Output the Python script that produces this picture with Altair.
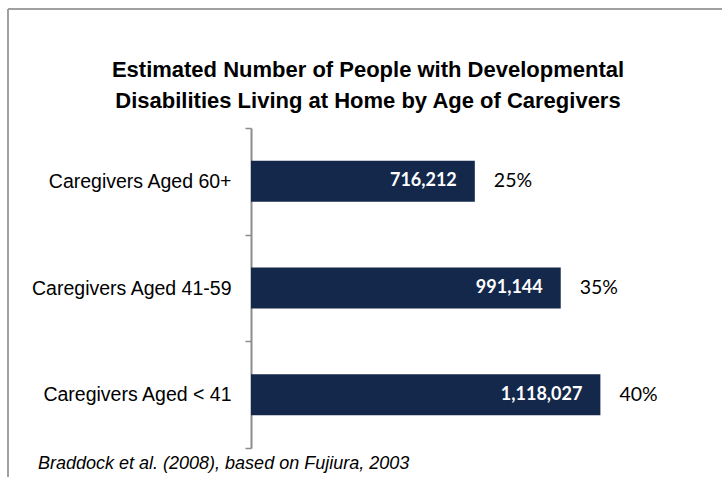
import altair as alt
import pandas as pd

categories = ["Caregivers Aged 60+", "Caregivers Aged 41-59", "Caregivers Aged < 41"]
counts = [716212, 991144, 1118027]
count_labels = ["716,212", "991,144", "1,118,027"]
percents = ["25%", "35%", "40%"]

title_lines = ["Estimated Number of People with Developmental",
               "Disabilities Living at Home by Age of Caregivers"]
source_note = "Braddock et al. (2008), based on Fujiura, 2003"

df = pd.DataFrame({"cat": categories, "count": counts,
                   "clabel": count_labels, "pct": percents})

W, H = 450, 320
LEFT, TOP = 251, 128

y_enc = alt.Y("cat:N", sort=categories,
              scale=alt.Scale(paddingInner=0, paddingOuter=0),
              axis=alt.Axis(title=None, domainColor="#8c8c8c", domainWidth=2,
                            tickColor="#8c8c8c", tickWidth=1.5, tickSize=6,
                            tickBand="extent", labelPadding=14, labelLimit=0,
                            labelFont="Liberation Sans", labelFontSize=19.5,
                            labelColor="#000000", grid=False))
x_enc = alt.X("count:Q", scale=alt.Scale(domain=[0, 1440000], nice=False, zero=True),
              axis=None)

base = alt.Chart(df)

bars = base.mark_bar(color="#14284b", size=41).encode(x=x_enc, y=y_enc)

inner = base.mark_text(align="right", baseline="middle", dx=-18, color="white",
                       font="Lato", fontWeight="bold", fontSize=18).encode(
    x="count:Q", y=alt.Y("cat:N", sort=categories), text="clabel:N")

outer = base.mark_text(align="left", baseline="middle", dx=19, color="black",
                       font="Lato", fontSize=19.5).encode(
    x="count:Q", y=alt.Y("cat:N", sort=categories), text="pct:N")

note = alt.Chart(pd.DataFrame({"t": [source_note]})).mark_text(
    align="left", baseline="alphabetic", font="Liberation Sans", fontStyle="italic",
    fontSize=18, color="#000000").encode(
    x=alt.value(38 - LEFT), y=alt.value(469 - TOP), text="t:N")

title1 = alt.Chart(pd.DataFrame({"t": [title_lines[0]]})).mark_text(
    align="center", baseline="alphabetic", font="Liberation Sans", fontWeight="bold",
    fontSize=22, color="#000000").encode(
    x=alt.value(368 - LEFT), y=alt.value(77 - TOP), text="t:N")
title2 = alt.Chart(pd.DataFrame({"t": [title_lines[1]]})).mark_text(
    align="center", baseline="alphabetic", font="Liberation Sans", fontWeight="bold",
    fontSize=22, color="#000000").encode(
    x=alt.value(368 - LEFT), y=alt.value(108 - TOP), text="t:N")

border_top = alt.Chart(pd.DataFrame({"a": [0]})).mark_rule(color="#a0a0a0", strokeWidth=2).encode(
    x=alt.value(8 - LEFT), x2=alt.value(722 - LEFT), y=alt.value(9 - TOP))
border_left = alt.Chart(pd.DataFrame({"a": [0]})).mark_rule(color="#a0a0a0", strokeWidth=2).encode(
    x=alt.value(8 - LEFT), y=alt.value(9 - TOP), y2=alt.value(477 - TOP))

chart = alt.layer(bars, inner, outer, note, title1, title2, border_top, border_left).properties(
    width=W, height=H,
    background="white",
    autosize=alt.AutoSizeParams(type="none"),
    padding={"left": LEFT, "top": TOP, "right": 722 - LEFT - W, "bottom": 487 - TOP - H},
).configure_view(strokeWidth=0, stroke="transparent")

chart.save("out.html", embed_options={"renderer": "svg", "actions": False})
